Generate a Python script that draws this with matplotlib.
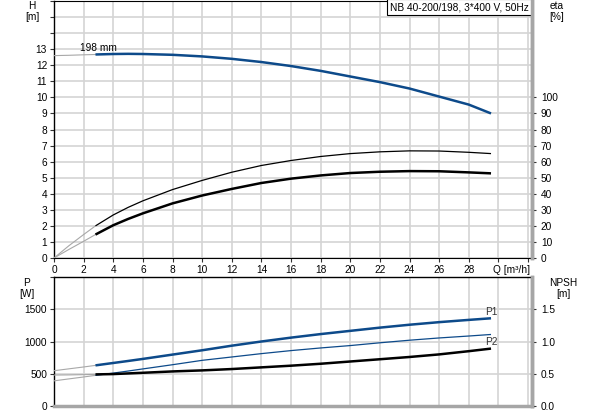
import matplotlib
matplotlib.use('Agg')
import matplotlib.pyplot as plt

plt.rcParams['font.family'] = ['Liberation Sans', 'DejaVu Sans']

# flow [m3/h]
q = [0, 1, 2, 2.8, 4, 5, 6, 8, 10, 12, 14, 16, 18, 20, 22, 24, 26, 28, 29.5]
# head [m]
head = [12.6, 12.62, 12.65, 12.67, 12.7, 12.71, 12.7, 12.65, 12.55, 12.4, 12.2, 11.95,
        11.65, 11.3, 10.95, 10.55, 10.05, 9.55, 9.0]
# efficiencies [%]
eta_pump = [0, 7.6, 14.6, 20.0, 26.8, 31.5, 35.6, 42.6, 48.3, 53.4, 57.6, 60.7,
            63.2, 65.0, 66.1, 66.7, 66.6, 65.8, 65.0]
eta_total = [0, 5.3, 10.4, 14.6, 20.4, 24.3, 27.8, 34.0, 38.9, 43.0, 46.7, 49.4,
             51.4, 52.9, 53.7, 54.1, 54.0, 53.3, 52.7]
# power [W]
p1 = [547, 576, 605, 630, 667, 698, 730, 797, 864, 935, 1000, 1060,
      1115, 1165, 1215, 1260, 1300, 1335, 1360]
p2 = [390, 420, 450, 475, 510, 542, 575, 640, 708, 760, 812, 859,
      900, 937, 980, 1020, 1055, 1085, 1109]
# NPSH [m]
npsh = [0.48, 0.482, 0.486, 0.49, 0.495, 0.505, 0.515, 0.536, 0.552, 0.573, 0.599, 0.625,
        0.655, 0.69, 0.725, 0.76, 0.80, 0.85, 0.89]

xticks = list(range(0, 34, 2))
xlabels = [str(v) for v in range(0, 30, 2)] + ['', '']
eta_ticks = list(range(0, 110, 10))
npsh_ticks = [0.0, 0.5, 1.0, 1.5]

blue = '#0d4a8a'
grid = '#d4d4d4'
spine_gray = '#a6a6a6'
start_gray = '#a8a8a8'
q_start = 2.8
fs = 7.3


def curve(ax, x, y, color, lw):
    # start of the curve (below q_start) is thin and gray
    k = x.index(q_start)
    ax.plot(x[:k + 1], y[:k + 1], color=start_gray, lw=0.8, zorder=3)
    ax.plot(x[k:], y[k:], color=color, lw=lw, zorder=4, solid_capstyle='butt')


def style(ax):
    ax.set_xlim(0, 32.3)
    ax.set_xticks(xticks)
    ax.grid(True, color=grid, lw=1.2)
    ax.set_axisbelow(True)
    ax.tick_params(labelsize=fs, length=3, width=0.8, color='#333333', pad=2)
    ax.spines['left'].set_color('black')
    ax.spines['left'].set_linewidth(1.0)
    ax.spines['right'].set_color(spine_gray)
    ax.spines['right'].set_linewidth(2.5)


def right_axis(ax, lim, ticks, labels=None):
    r = ax.twinx()
    r.set_ylim(*lim)
    r.set_yticks(ticks)
    if labels:
        r.set_yticklabels(labels)
    r.tick_params(labelsize=fs, length=3, width=0.8, color='#333333', pad=3)
    r.spines['right'].set_color(spine_gray)
    r.spines['right'].set_linewidth(2.5)
    for s in ['left', 'top', 'bottom']:
        r.spines[s].set_visible(False)
    return r


fig = plt.figure(figsize=(5.93, 4.15), dpi=100)

# upper chart: head and efficiency
ax1 = fig.add_axes([54 / 593, (415 - 258) / 415, 478.5 / 593, 257 / 415])
style(ax1)
ax1.set_ylim(0, 16)
ax1.set_yticks(range(0, 17))
ax1.set_yticklabels([str(v) if v <= 13 else '' for v in range(0, 17)])
for t in ax1.yaxis.get_major_ticks()[14:]:
    t.tick1line.set_visible(False)
ax1.set_xticklabels(xlabels)
ax1.spines['bottom'].set_color('black')
ax1.spines['top'].set_color('black')
ax1.spines['top'].set_linewidth(0.8)

curve(ax1, q, head, blue, 1.8)
curve(ax1, q, [v / 10 for v in eta_pump], 'black', 0.9)
curve(ax1, q, [v / 10 for v in eta_total], 'black', 1.8)

right_axis(ax1, (0, 160), eta_ticks)

ax1.text(1.75, 13.05, '198 mm', fontsize=fs, ha='left', va='center')
ax1.text(29.6, -0.75, 'Q [m³/h]', fontsize=fs, ha='left', va='center')
ax1.text(0.993, 0.995, 'NB 40-200/198, 3*400 V, 50Hz', transform=ax1.transAxes,
         fontsize=fs, ha='right', va='top',
         bbox=dict(boxstyle='square,pad=0.3', fc='white', ec='black', lw=0.8), zorder=6)

fig.text(32 / 593, 1 - 6 / 415, 'H', fontsize=fs, ha='center', va='center')
fig.text(32 / 593, 1 - 17 / 415, '[m]', fontsize=fs, ha='center', va='center')
fig.text(557 / 593, 1 - 6 / 415, 'eta', fontsize=fs, ha='center', va='center')
fig.text(557 / 593, 1 - 17 / 415, '[%]', fontsize=fs, ha='center', va='center')

# lower chart: power and NPSH
ax2 = fig.add_axes([54 / 593, (415 - 406) / 415, 478.5 / 593, 129 / 415])
style(ax2)
ax2.set_ylim(0, 2000)
ax2.set_yticks([0, 500, 1000, 1500, 2000])
ax2.set_yticklabels(['0', '500', '1000', '1500', ''])
ax2.yaxis.get_major_ticks()[4].tick1line.set_visible(False)
ax2.tick_params(axis='x', length=0, labelbottom=False)
ax2.spines['top'].set_color('black')
ax2.spines['top'].set_linewidth(1.0)
ax2.spines['bottom'].set_color(spine_gray)
ax2.spines['bottom'].set_linewidth(2.5)

curve(ax2, q, p1, blue, 1.8)
curve(ax2, q, p2, blue, 0.9)
curve(ax2, q, [v * 1000 for v in npsh], 'black', 1.8)

right_axis(ax2, (0, 2.0), npsh_ticks, ['0.0', '0.5', '1.0', '1.5'])

ax2.text(29.1, 1458, 'P1', fontsize=fs, color='#333333', ha='left', va='center')
ax2.text(29.1, 989, 'P2', fontsize=fs, color='#333333', ha='left', va='center')

fig.text(27 / 593, 1 - 283 / 415, 'P', fontsize=fs, ha='center', va='center')
fig.text(27 / 593, 1 - 294 / 415, '[W]', fontsize=fs, ha='center', va='center')
fig.text(563 / 593, 1 - 283 / 415, 'NPSH', fontsize=fs, ha='center', va='center')
fig.text(563 / 593, 1 - 294 / 415, '[m]', fontsize=fs, ha='center', va='center')

fig.savefig('out.png', dpi=100)
